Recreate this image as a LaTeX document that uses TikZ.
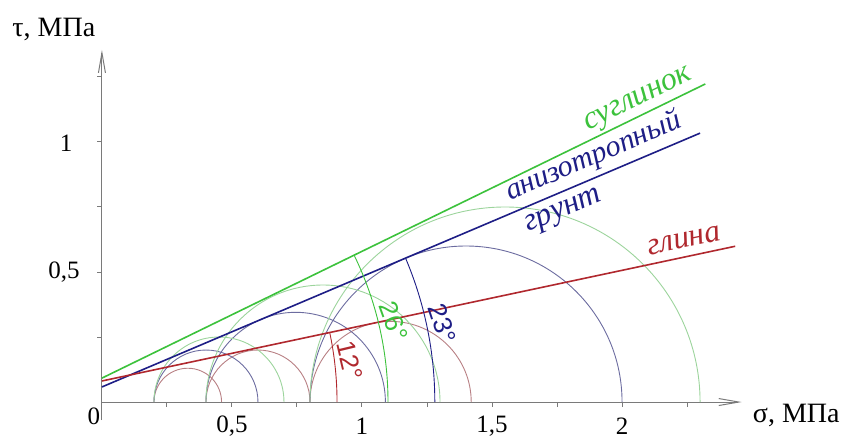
\documentclass[tikz,border=0pt]{standalone}
\usepackage{fontspec}
\setmainfont{Liberation Serif}
\setsansfont{Liberation Sans}
\usetikzlibrary{arrows.meta}
\definecolor{loamgreen}{HTML}{3CC23C}
\definecolor{loamlight}{HTML}{9CD49C}
\definecolor{anisoblue}{HTML}{1E1E86}
\definecolor{anisolight}{HTML}{6C6CA0}
\definecolor{clayred}{HTML}{B0282E}
\definecolor{claylight}{HTML}{B88084}
\definecolor{axisgray}{HTML}{7A7A7A}

\begin{document}
\begin{tikzpicture}[x=130pt,y=130pt,font=\fontsize{12.5}{14}\selectfont,
  axis/.style={axisgray,line width=0.5pt},
  envelope/.style={line width=0.8pt},
  mohr/.style={line width=0.45pt},
  soillabel/.style={font=\fontsize{16}{18}\selectfont\itshape,sloped},
  anglelabel/.style={font=\fontsize{13}{15}\selectfont\sffamily,sloped,above,inner sep=3pt,rotate=7}]
\useasboundingbox (-0.392,-0.138) rectangle (2.865,1.546);
% axes and ticks
\draw[axis,-{Straight Barb[length=10pt,width=3.5pt]}] (0,0) -- (2.46,0);
\draw[axis,-{Straight Barb[length=10pt,width=3.5pt]}] (0,-0.07) -- (0,1.354);
\foreach \t in {1,...,9}
  \draw[axis] (\t*0.25,0) -- (\t*0.25,-0.02);
\foreach \t in {1,...,5}
  \draw[axis] (0,\t*0.25) -- (-0.02,\t*0.25);
\node (origin) at (-0.031,-0.054) {0};
\foreach \v/\txt/\nm in {0.5/{0,5}/a,1/1/b,1.5/{1,5}/c,2/2/d}
  \node (sig\nm) at (\v,-0.093) {\txt};
\node (tauhalf) at (-0.146,0.5) {0,5};
\node (tauone) at (-0.138,0.996) {1};
\node[font=\fontsize{14}{16}\selectfont] (tautitle) at (-0.185,1.431) {τ, МПа};
\node[font=\fontsize{14}{16}\selectfont] (sigtitle) at (2.67,-0.05) {σ, МПа};
% Mohr circles
\foreach \lo/\hi in {0.2/0.46,0.4/0.8,0.8/1.42}
  \draw[mohr,claylight] (\hi,0) arc[start angle=0,end angle=180,radius={(\hi-\lo)/2}];
\foreach \lo/\hi in {0.2/0.6,0.4/1.09,0.8/2.0}
  \draw[mohr,anisolight] (\hi,0) arc[start angle=0,end angle=180,radius={(\hi-\lo)/2}];
\foreach \lo/\hi in {0.2/0.7,0.4/1.3,0.8/2.3}
  \draw[mohr,loamlight] (\hi,0) arc[start angle=0,end angle=180,radius={(\hi-\lo)/2}];
% strength envelopes
\draw[envelope,loamgreen] (0,0.092) -- (2.32,1.223)
  node[soillabel,above,inner sep=1pt,pos=0.9] (loam) {суглинок};
\draw[envelope,anisoblue] (0,0.058) -- (2.3,1.034)
  node[soillabel,above,inner sep=2.5pt,pos=0.835,font=\fontsize{15}{18}\selectfont\itshape] (aniso) {анизотропный}
  node[soillabel,below,inner sep=4pt,pos=0.76] (ground) {грунт};
\draw[envelope,clayred] (0,0.081) -- (2.435,0.599)
  node[soillabel,above,inner sep=4pt,pos=0.925] (clay) {глина};
% friction angle arcs
\draw[mohr,clayred] (-0.381,0) ++(12:1.285) arc[start angle=12,end angle=0,radius=1.285]
  node[anglelabel,pos=0.46,text=clayred] (phiclay) {12°};
\draw[mohr,loamgreen] (-0.189,0) ++(26:1.289) arc[start angle=26,end angle=0,radius=1.289]
  node[anglelabel,pos=0.5,text=loamgreen] (philoam) {26°};
\draw[mohr,anisoblue] (-0.137,0) ++(23:1.417) arc[start angle=23,end angle=0,radius=1.417]
  node[anglelabel,pos=0.5,text=anisoblue] (phianiso) {23°};
\end{tikzpicture}
\end{document}
